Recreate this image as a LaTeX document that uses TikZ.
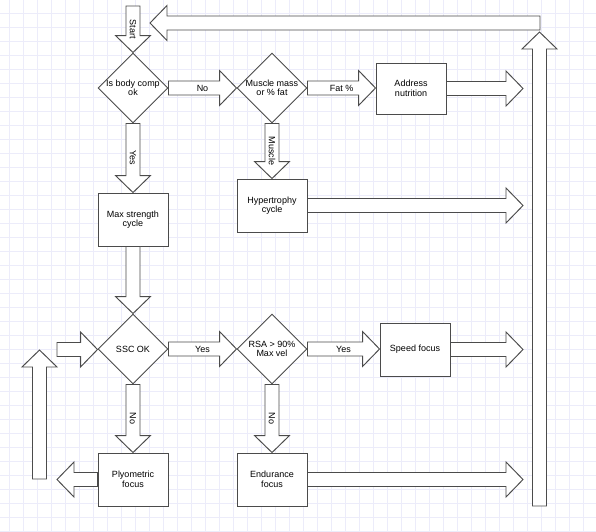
\documentclass[tikz,border=0pt]{standalone}
\usepackage{fontspec}
\setmainfont{Liberation Sans}
\usetikzlibrary{shapes.geometric,calc}
\definecolor{gridc}{RGB}{236,236,250}
\definecolor{linec}{RGB}{75,75,75}
\tikzset{
  barrow/.style={draw=linec, fill=white, line width=0.95pt, line join=miter},
  boxn/.style={draw=linec, fill=white, line width=0.95pt, minimum width=70pt, minimum height=53pt, inner sep=0pt, align=center, font=\fontsize{9}{9.5}\selectfont},
  dia/.style={diamond, draw=linec, fill=white, line width=0.95pt, minimum width=70pt, minimum height=70pt, inner sep=0pt},
  dtxt/.style={inner sep=0pt, align=center, font=\fontsize{9}{9.5}\selectfont},
  alabel/.style={inner sep=0pt, font=\fontsize{9}{9.5}\selectfont},
}
% right-pointing block arrow: start, tip, label
\newcommand\arR[3]{%
  \draw[barrow] let \p1=(#1), \p2=(#2) in
    (\x1,\y1+7pt) -- (\x2-17pt,\y1+7pt) -- (\x2-17pt,\y1+17.5pt) -- (\x2,\y1)
    -- (\x2-17pt,\y1-17.5pt) -- (\x2-17pt,\y1-7pt) -- (\x1,\y1-7pt) -- cycle;
  \path let \p1=(#1), \p2=(#2) in (\x1,\y1) -- node[alabel]{#3} (\x2,\y1);
}
\newcommand\arL[3]{%
  \draw[barrow] let \p1=(#1), \p2=(#2) in
    (\x1,\y1+7pt) -- (\x2+17pt,\y1+7pt) -- (\x2+17pt,\y1+17.5pt) -- (\x2,\y1)
    -- (\x2+17pt,\y1-17.5pt) -- (\x2+17pt,\y1-7pt) -- (\x1,\y1-7pt) -- cycle;
  \path let \p1=(#1), \p2=(#2) in (\x1,\y1) -- node[alabel]{#3} (\x2,\y1);
}
\newcommand\arD[3]{%
  \draw[barrow] let \p1=(#1), \p2=(#2) in
    (\x1-7pt,\y1) -- (\x1-7pt,\y2+17pt) -- (\x1-17.5pt,\y2+17pt) -- (\x1,\y2)
    -- (\x1+17.5pt,\y2+17pt) -- (\x1+7pt,\y2+17pt) -- (\x1+7pt,\y1) -- cycle;
  \path let \p1=(#1), \p2=(#2) in (\x1,\y1) -- node[alabel,rotate=-90]{#3} (\x1,\y2);
}
\newcommand\arU[3]{%
  \draw[barrow] let \p1=(#1), \p2=(#2) in
    (\x1-7pt,\y1) -- (\x1-7pt,\y2-17pt) -- (\x1-17.5pt,\y2-17pt) -- (\x1,\y2)
    -- (\x1+17.5pt,\y2-17pt) -- (\x1+7pt,\y2-17pt) -- (\x1+7pt,\y1) -- cycle;
  \path let \p1=(#1), \p2=(#2) in (\x1,\y1) -- node[alabel,rotate=-90]{#3} (\x1,\y2);
}
\begin{document}
\begin{tikzpicture}[x=1pt,y=-1pt]
\useasboundingbox (0,0) rectangle (596,531);
\fill[white] (0,0) rectangle (596,531);
% grid
\foreach \i in {0,...,42} {
  \draw[gridc, line width=0.6pt] (9.5+14*\i,0) -- (9.5+14*\i,531);
}
\foreach \j in {0,...,37} {
  \draw[gridc, line width=0.6pt] (0,13.5+14*\j) -- (596,13.5+14*\j);
}
% nodes
\node[dia] (d1) at (133,88) {};
\node[dtxt] (d1t) at (d1) {Is body comp\\ok};
\node[dia] (d2) at (272,88) {};
\node[dtxt] (d2t) at (d2) {Muscle mass\\or \% fat};
\node[boxn, minimum height=51pt] (nut) at (411,88.5) {Address\\nutrition};
\node[boxn] (maxs) at (133,219.5) {Max strength\\cycle};
\node[boxn] (hyp) at (272,205.5) {Hypertrophy\\cycle};
\node[dia] (ssc) at (133,349) {};
\node[dtxt] (ssct) at (ssc) {SSC OK};
\node[dia] (rsa) at (272,349) {};
\node[dtxt] (rsat) at (rsa) {RSA > 90\%\\Max vel};
\node[boxn] (speed) at (415,349.5) {Speed focus};
\node[boxn] (plyo) at (133,479.5) {Plyometric\\focus};
\node[boxn] (endu) at (272,479.5) {Endurance\\focus};
% free ends
\coordinate (s0) at (133,6);
\coordinate (e1) at (523,88);
\coordinate (e2) at (523,205);
\coordinate (e3) at (523,349.5);
\coordinate (e4) at (523,479.5);
\coordinate (in1) at (57,349.5);
\coordinate (pl) at (57,479.5);
\coordinate (lb) at (39.5,479);
\coordinate (lt) at (39.5,350);
\coordinate (rb) at (539.5,506);
\coordinate (rt) at (539.5,32);
\coordinate (tr) at (540,23);
\coordinate (tl) at (150,23);
% connectors
\arD{s0}{d1.north}{Start}
\arR{d1.east}{d2.west}{No}
\arR{d2.east}{nut.west}{Fat \%}
\arR{nut.east}{e1}{}
\arD{d1.south}{maxs.north}{Yes}
\arD{d2.south}{hyp.north}{Muscle}
\arR{hyp.east}{e2}{}
\arD{maxs.south}{ssc.north}{}
\arR{in1}{ssc.west}{}
\arR{ssc.east}{rsa.west}{Yes}
\arR{rsa.east}{speed.west}{Yes}
\arR{speed.east}{e3}{}
\arD{ssc.south}{plyo.north}{No}
\arD{rsa.south}{endu.north}{No}
\arL{plyo.west}{pl}{}
\arR{endu.east}{e4}{}
\arU{lb}{lt}{}
\arU{rb}{rt}{}
\arL{tr}{tl}{}
\end{tikzpicture}
\end{document}
